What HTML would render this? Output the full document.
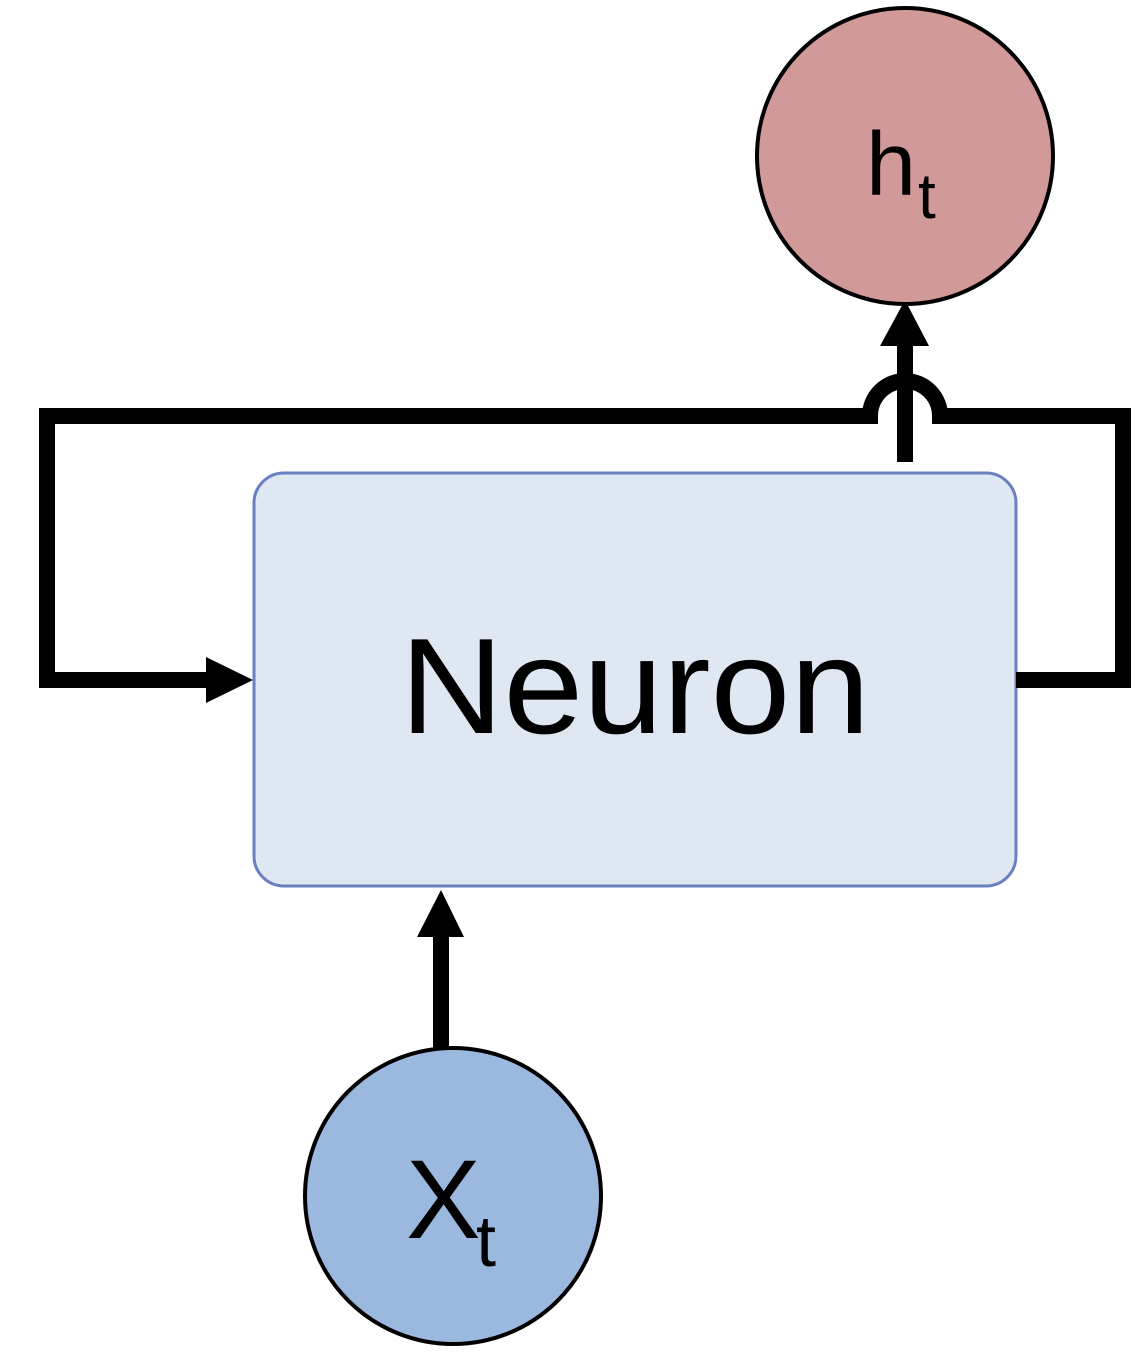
<!DOCTYPE html>
<html><head><meta charset="utf-8"><style>
html,body{margin:0;padding:0;background:#fff;}
</style></head><body>
<svg width="1142" height="1356" viewBox="0 0 1142 1356" xmlns="http://www.w3.org/2000/svg">
<rect width="1142" height="1356" fill="#fff"/>
<rect x="254" y="473" width="762" height="413" rx="30" ry="30" fill="#dfe7f2" stroke="#6a7fc0" stroke-width="3"/>
<text x="400" y="733" font-family="Liberation Sans, sans-serif" font-size="136" textLength="470" lengthAdjust="spacingAndGlyphs" fill="#000">Neuron</text>
<path d="M1016 680 H1123 V416 H940 A35 35 0 0 0 870 416 H47 V680 H210" fill="none" stroke="#000" stroke-width="16" stroke-linejoin="miter"/>
<polygon points="206,657 253,680 206,703" fill="#000"/>
<line x1="905" y1="462" x2="905" y2="340" stroke="#000" stroke-width="16"/>
<polygon points="880,346 905,300 929,346" fill="#000"/>
<line x1="441" y1="1052" x2="441" y2="930" stroke="#000" stroke-width="16"/>
<polygon points="417,937 441,890 464,937" fill="#000"/>
<circle cx="905" cy="156" r="148" fill="#d19a98" stroke="#000" stroke-width="4"/>
<text x="866" y="195" font-family="Liberation Sans, sans-serif" font-size="90" fill="#000">h</text>
<text x="918" y="218" font-family="Liberation Sans, sans-serif" font-size="64" fill="#000">t</text>
<circle cx="453" cy="1196" r="148" fill="#9bb9df" stroke="#000" stroke-width="4"/>
<text x="406" y="1238" font-family="Liberation Sans, sans-serif" font-size="112" fill="#000">X</text>
<text x="476" y="1266" font-family="Liberation Sans, sans-serif" font-size="72" fill="#000">t</text>
</svg>
</body></html>
